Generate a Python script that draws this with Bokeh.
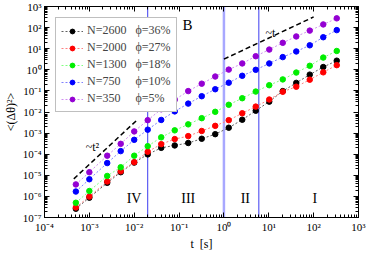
from bokeh.plotting import figure
from bokeh.models import (LogAxis, FixedTicker, CustomJSTickFormatter, Span, Label,
                          Legend, LegendItem)
from bokeh.embed import file_html
from bokeh.resources import INLINE

# ---- data ----
t = [5e-4, 1e-3, 2.5e-3, 5e-3, 1e-2, 2e-2, 4e-2, 8e-2, 0.16, 0.32, 0.64, 1.28,
     2.56, 5.12, 10.24, 20.48, 40.96, 81.92, 163.84, 327.68]

msd_2600 = [2.6e-7, 8.7e-7, 4.4e-6, 1.4e-5, 4.0e-5, 9.8e-5, 2.0e-4, 2.6e-4, 3.4e-4, 5.4e-4,
            8.9e-4, 1.8e-3, 4.3e-3, 1.15e-2, 3.1e-2, 9.8e-2, 0.24, 0.59, 1.35, 2.7]
msd_2000 = [3.0e-7, 9.8e-7, 5.1e-6, 1.55e-5, 4.2e-5, 1.3e-4, 3.0e-4, 5.2e-4, 7.2e-4, 1.26e-3,
            2.2e-3, 4.1e-3, 8.7e-3, 1.8e-2, 3.9e-2, 9.1e-2, 0.158, 0.34, 0.76, 1.66]
msd_1300 = [5.0e-7, 1.8e-6, 9.3e-6, 2.4e-5, 8.5e-5, 2.4e-4, 6.3e-4, 1.35e-3, 2.6e-3, 5.1e-3,
            1.02e-2, 2.2e-2, 4.5e-2, 9.3e-2, 0.186, 0.35, 0.74, 1.55, 3.8, 7.8]
msd_750 = [1.7e-6, 6.5e-6, 3.8e-5, 1.4e-4, 4.8e-4, 1.45e-3, 4.2e-3, 1.07e-2, 2.5e-2, 5.6e-2,
           0.12, 0.245, 0.52, 1.0, 2.0, 4.0, 7.4, 14.5, 35, 76]
msd_350 = [3.7e-6, 1.4e-5, 8.5e-5, 3.1e-4, 1.2e-3, 4.1e-3, 1.35e-2, 3.8e-2, 9.8e-2, 0.22,
           0.48, 1.02, 2.0, 4.4, 9.1, 19, 38, 72, 141, 275]

series_labels = ["N=2600\u00a0\u00a0\u00a0\u03d5=36%",
                 "N=2000\u00a0\u00a0\u00a0\u03d5=27%",
                 "N=1300\u00a0\u00a0\u00a0\u03d5=18%",
                 "N=750\u00a0\u00a0\u00a0\u00a0\u00a0\u03d5=10%",
                 "N=350\u00a0\u00a0\u00a0\u00a0\u00a0\u03d5=5%"]
series_values = [msd_2600, msd_2000, msd_1300, msd_750, msd_350]
series_colors = ["#000000", "#ff0000", "#00ee00", "#0000ff", "#9400d3"]
line_colors = ["#606060", "#ff8080", "#80ff80", "#8080ff", "#d090f0"]

# regime boundaries
boundaries = [0.02, 1.0, 6.0]
boundary_colors = ["#3c3cf0", "#a8a8ff", "#3c3cf0"]
boundary_widths = [1, 2.5, 1]

# guide lines
guide_t2_x = [4.5e-4, 1.15e-2]
guide_t2_y = [6.8e-6, 4.1e-3]
guide_t1_x = [1.0, 100.0]
guide_t1_y = [3.2, 320.0]

regime_names = ["IV", "III", "II", "I"]
regime_x = [0.0099, 0.16, 3.0, 106.0]
regime_y = 8e-7

x_exps = list(range(-4, 4))
y_exps = list(range(-7, 4))

FONT = "Liberation Serif"

p = figure(width=366, height=253, x_axis_type="log", y_axis_type="log",
           x_range=(1e-4, 1e3), y_range=(1e-7, 1e3),
           output_backend="svg", toolbar_location=None,
           min_border_left=35, min_border_right=8, min_border_top=6,
           min_border_bottom=28)
p.xgrid.visible = False
p.ygrid.visible = False
p.outline_line_color = "black"
p.outline_line_width = 1
p.background_fill_color = "white"
p.border_fill_color = "white"

x_major = [10.0 ** e for e in x_exps]
x_minor = [m * 10.0 ** e for e in x_exps[:-1] for m in range(2, 10)]
y_major = [10.0 ** e for e in y_exps]
y_minor = [m * 10.0 ** e for e in y_exps[:-1] for m in range(2, 10)]

fmt_code = """
const sup = {'-':'\u207b','0':'\u2070','1':'\u00b9','2':'\u00b2','3':'\u00b3','4':'\u2074',
             '5':'\u2075','6':'\u2076','7':'\u2077','8':'\u2078','9':'\u2079'};
const e = Math.round(Math.log10(tick));
return '10' + String(e).split('').map(c => sup[c]).join('');
"""

def style_axis(ax, major, minor, show_labels):
    ax.ticker = FixedTicker(ticks=major, minor_ticks=minor)
    ax.major_tick_in = 5
    ax.major_tick_out = 0
    ax.minor_tick_in = 3
    ax.minor_tick_out = 0
    ax.axis_line_color = "black"
    ax.major_tick_line_color = "black"
    ax.minor_tick_line_color = "black"
    ax.major_label_text_font = FONT
    ax.major_label_text_font_size = "11px"
    ax.major_label_text_color = "black"
    if show_labels:
        ax.formatter = CustomJSTickFormatter(code=fmt_code)
    else:
        ax.formatter = CustomJSTickFormatter(code="return '';")
        ax.major_label_standoff = 0
    ax.axis_label_text_font = FONT
    ax.axis_label_text_font_style = "normal"
    ax.axis_label_text_font_size = "12px"
    ax.axis_label_text_color = "black"

style_axis(p.xaxis[0], x_major, x_minor, True)
style_axis(p.yaxis[0], y_major, y_minor, True)
p.xaxis[0].major_label_standoff = 3
p.yaxis[0].major_label_standoff = 3
p.xaxis[0].axis_label = "t\u00a0\u00a0[s]"
p.xaxis[0].axis_label_standoff = 1
p.yaxis[0].axis_label = "<(\u0394\u03b8)\u00b2>"
p.yaxis[0].axis_label_standoff = 2

top_ax = LogAxis()
right_ax = LogAxis()
style_axis(top_ax, x_major, x_minor, False)
style_axis(right_ax, y_major, y_minor, False)
p.add_layout(top_ax, "above")
p.add_layout(right_ax, "right")

for loc, col, w in zip(boundaries, boundary_colors, boundary_widths):
    s = Span(location=loc, dimension="height", line_color=col, line_width=w,
             level="underlay")
    p.add_layout(s)

items = []
for lab, vals, col, lcol in zip(series_labels, series_values, series_colors, line_colors):
    lr = p.line(t, vals, line_color=lcol, line_width=1, line_dash="2 2")
    sr = p.scatter(t, vals, size=5.5, fill_color=col, line_color=col, marker="circle")
    items.append(LegendItem(label=lab, renderers=[lr, sr]))

p.line(guide_t2_x, guide_t2_y, line_color="black", line_width=1.5, line_dash="5 3")
p.line(guide_t1_x, guide_t1_y, line_color="black", line_width=1.5, line_dash="5 3")

legend = Legend(items=items, location="top_left", margin=11,
                label_text_font=FONT, label_text_font_size="12px",
                label_text_line_height=1.0,
                glyph_width=22, glyph_height=12, label_height=12,
                spacing=2, padding=5, label_standoff=4,
                border_line_color="#808080", border_line_width=1.5,
                background_fill_color="white", background_fill_alpha=1.0)
p.add_layout(legend)

def add_label(x, y, text, size, align="left"):
    p.add_layout(Label(x=x, y=y, text=text, text_font=FONT, text_font_size=size,
                       text_color="black", text_align=align,
                       text_baseline="alphabetic"))

add_label(0.12, 135, "B", "15px")
add_label(8.3e-4, 2.2e-4, "~t\u00b2", "12px")
add_label(8.5, 55, "~t", "12px")
for name, rx in zip(regime_names, regime_x):
    add_label(rx, regime_y, name, "14px", "center")

open("out.html", "w").write(file_html(p, INLINE))
